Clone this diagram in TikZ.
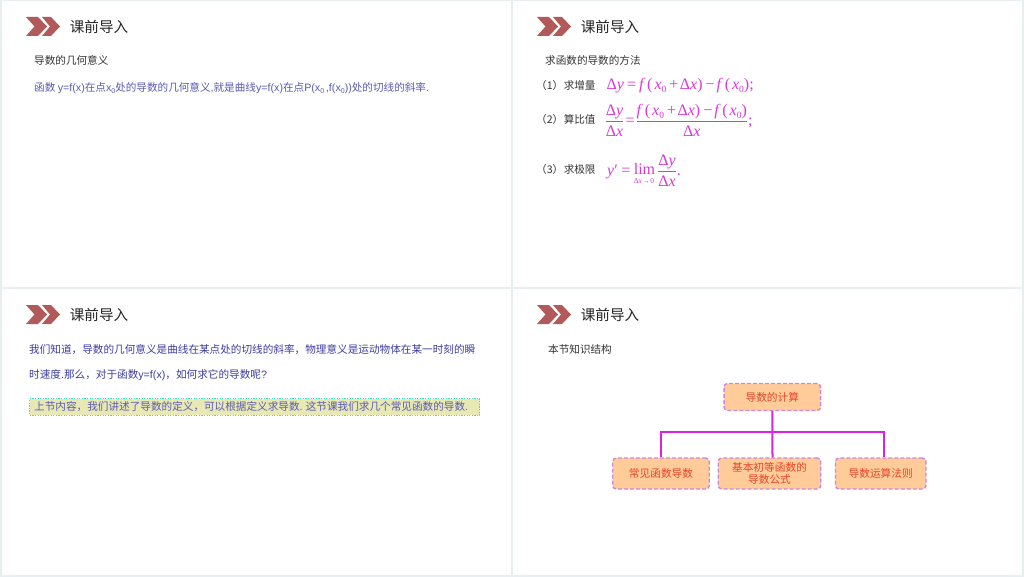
\documentclass[tikz,border=0pt]{standalone}
\usepackage{fontspec}
\setmainfont{Liberation Sans}
\newfontfamily\cjk{Noto Sans CJK SC}[Scale=1]
\newfontfamily\tms{Liberation Serif}
\usetikzlibrary{calc}
\definecolor{gutter}{HTML}{E9EFF0}
\definecolor{chev}{HTML}{B25A5A}
\definecolor{blueA}{HTML}{5A5AB4}
\definecolor{blueB}{HTML}{3C3CA0}
\definecolor{mag}{HTML}{D838D8}
\definecolor{bannerfill}{HTML}{E8E8B4}
\definecolor{bannerline}{HTML}{38E0C8}
\definecolor{boxfill}{HTML}{FFCC99}
\definecolor{boxline}{HTML}{C888DC}
\definecolor{boxtext}{HTML}{E8442A}
\definecolor{wire}{HTML}{E020E0}
\definecolor{ink}{HTML}{333333}
\newcommand{\fs}[1]{\fontsize{#1}{#1}\selectfont}
\newcommand{\sub}[1]{\raisebox{-2pt}{\fs{7}#1}}
\newcommand{\lat}[1]{{\rmfamily\fs{10.7}#1}}
\newcommand{\mi}[1]{{\tms\itshape #1}}
\newcommand{\mr}[1]{{\tms #1}}
\newcommand{\xz}{\mi{x}\raisebox{-2.5pt}{\tms\fs{9.5}0}}
\newcommand{\dl}{\mr{Δ}}
\newcommand{\fbig}[1]{\hbox{\tms\fs{16}#1}}
\newcommand{\frc}[2]{$\frac{\fbig{\rule[-5pt]{0pt}{12pt}#1}}{\fbig{\rule{0pt}{15pt}#2}}$}
\newcommand{\incr}{\mi{f\,}\hspace{1pt}(\hspace{2pt}\xz\hspace{3pt}+\hspace{1.5pt}\dl\mi{x})\hspace{3pt}−\hspace{2pt}\mi{f\,}\hspace{1pt}(\hspace{2pt}\xz)}
\tikzset{
  panel/.style={fill=white,draw=none},
  ttl/.style={anchor=west,inner sep=0,text=black!85,font=\cjk\fs{14.6}},
  body/.style={anchor=west,inner sep=0,text=ink,font=\cjk\fs{10.6}},
  textA/.style={anchor=west,inner sep=0,text=blueA,font=\cjk\fs{10.6}},
  textB/.style={anchor=west,inner sep=0,text=blueB,font=\cjk\fs{10.62}},
  formula/.style={anchor=west,inner sep=0,text=mag,font=\tms\fs{16}},
  chevron/.style={fill=chev,draw=none},
  topicbox/.style={preaction={draw=white,solid},draw=boxline,fill=boxfill,dash pattern=on 4pt off 2pt,line width=1.4pt,rounded corners=3.5pt,
     text=boxtext,font=\cjk\fs{10.7},align=center,inner sep=0,minimum height=#1},
  bannerbox/.style={preaction={draw=white,solid},draw=bannerline,fill=bannerfill,dash pattern=on 1.3pt off 1.3pt,line width=1.4pt,minimum width=450pt,minimum height=16.5pt,inner sep=0,anchor=west},
  wireline/.style={draw=wire,line width=2pt},
}
\newcommand{\header}[2]{%
  \fill[chevron] (#1+26,#2+17) -- (#1+38,#2+17) -- (#1+47,#2+26.5) -- (#1+38,#2+36) -- (#1+26,#2+36) -- (#1+34.5,#2+26.5) -- cycle;
  \fill[chevron] (#1+42,#2+17) -- (#1+51,#2+17) -- (#1+60,#2+26.5) -- (#1+51,#2+36) -- (#1+42,#2+36) -- (#1+50,#2+26.5) -- cycle;
}
\begin{document}
\begin{tikzpicture}[x=1pt,y=-1pt]
\useasboundingbox (0,0) rectangle (1024,577);
\fill[gutter] (0,0) rectangle (1024,577);
\fill[panel] (2,1) rectangle (510.8,286.8);
\fill[panel] (513.3,1) rectangle (1022,286.8);
\fill[panel] (2,289.3) rectangle (510.8,574.5);
\fill[panel] (513.3,289.3) rectangle (1022,574.5);
\header{0}{0}
\header{511}{0}
\header{0}{288}
\header{511}{288}
\node[ttl] (t1) at (69.6,27) {课前导入};
\node[ttl] (t2) at (580.6,27) {课前导入};
\node[ttl] (t3) at (69.6,315) {课前导入};
\node[ttl] (t4) at (580.6,315) {课前导入};
% panel 1
\node[body] (p1a) at (34,60) {导数的几何意义};
\node[textA] (p1b) at (34,88.5) {函数 \lat{y=f(x)}在点\lat{x\sub{0}}处的导数的几何意义\lat{,}就是曲线\lat{y=f(x)}在点\lat{P(x\sub{0}\,,f(x\sub{0}))}处的切线的斜率\lat{.}};
% panel 2
\node[body] (p2a) at (545,60) {求函数的导数的方法};
\node[body] (s1) at (536,85) {（1）\hspace{0.5pt}求增量};
\node[body] (s2) at (536,119) {（2）\hspace{0.5pt}算比值};
\node[body] (s3) at (536,169) {（3）\hspace{0.5pt}求极限};
\node[formula] (f1) at (606.5,86) {\dl\mi{y}\hspace{3pt}=\hspace{3pt}\incr;};
\node[formula] (f2) at (604.5,120.5) {\frc{\dl\mi{y}}{\dl\mi{x}}\hspace{1pt}=\hspace{1pt}\frc{\incr}{\dl\mi{x}};};
\node[formula] (f3) at (607,170.5) {\mi{y}′\hspace{3.5pt}=\hspace{3.5pt}\raisebox{1pt}{\mr{lim}}\hspace{2pt}\frc{\dl\mi{y}}{\dl\mi{x}}.};
\node[anchor=center,inner sep=0,text=mag,font=\tms\fs{7.5}] (f3b) at (644,181.5) {Δ\mi{x}\hspace{0.5pt}→\hspace{0.5pt}0};
% panel 3
\node[textB] (p3a) at (29,350) {我们知道，导数的几何意义是曲线在某点处的切线的斜率，物理意义是运动物体在某一时刻的瞬};
\node[textB] (p3b) at (29,375) {时速度\lat{.}那么，对于函数\lat{y=f(x)}，如何求它的导数呢\lat{?}};
\node[bannerbox] (ban) at (29,407) {};
\node[textB,text=blueA] (bant) at (34,407) {上节内容，我们讲述了导数的定义，可以根据定义求导数\lat{.} 这节课我们求几个常见函数的导数\lat{.}};
% panel 4
\node[body] (p4a) at (548,349) {本节知识结构};
\node[topicbox=27pt,minimum width=96.5pt] (root) at (772.3,397) {导数的计算};
\node[topicbox=31pt,minimum width=96.5pt] (cl) at (661,473.5) {常见函数导数};
\node[topicbox=31pt,minimum width=102.5pt] (cm) at (769.5,473.5) {基本初等函数的\\[1pt]导数公式};
\node[topicbox=31pt,minimum width=90.5pt] (cr) at (880.7,473.5) {导数运算法则};
\coordinate (rtop) at ([xshift=3pt]cr.north);
\coordinate (mtop) at ([xshift=3pt]cm.north);
\coordinate (bus) at (772.3,432);
\draw[wireline] (root.south) -- (mtop);
\draw[wireline] (cl.north) |- (bus) -| (rtop);
\end{tikzpicture}
\end{document}
